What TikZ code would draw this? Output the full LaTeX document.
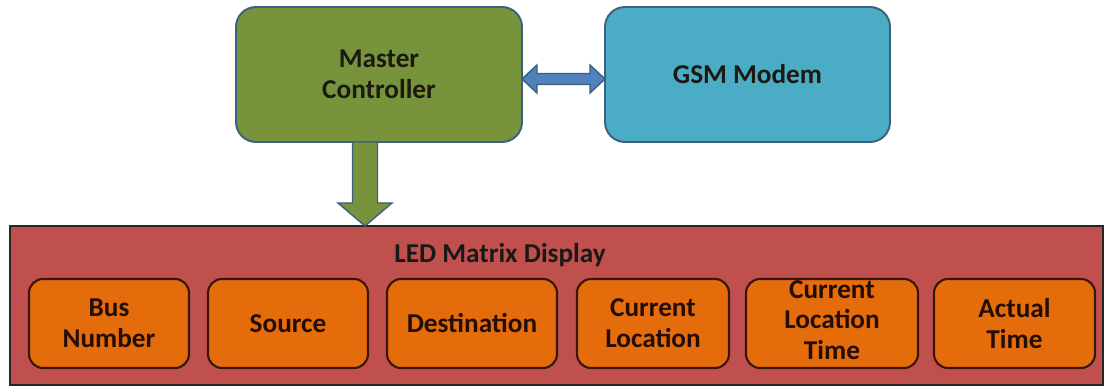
\documentclass[tikz,border=0pt]{standalone}
\usepackage{fontspec}
\setmainfont{Carlito}
\usetikzlibrary{calc}
\definecolor{mcgreen}{HTML}{77933C}
\definecolor{gsmblue}{HTML}{4BACC6}
\definecolor{linkblue}{HTML}{4F81BD}
\definecolor{edgeblue}{HTML}{3F5F7F}
\definecolor{ledred}{HTML}{C0504D}
\definecolor{cellorange}{HTML}{E46C0A}
\definecolor{celledge}{HTML}{3A160A}
\definecolor{inktext}{HTML}{1C1A10}
\newcommand{\labelfont}{\fontsize{15.5}{17.5}\selectfont\bfseries}
\tikzset{
  pxsize/.style 2 args={minimum width={#1*0.02cm}, minimum height={#2*0.02cm}},
  unitbox/.style={draw=edgeblue, line width=1.1pt, rounded corners=0.4cm,
    inner sep=0pt, outer sep=0pt, align=center, text=inktext,
    font=\labelfont},
  ledbox/.style={draw=black!85, fill=ledred, line width=1.4pt,
    inner sep=0pt, outer sep=0pt},
  cellbox/.style={draw=celledge, fill=cellorange, line width=1.2pt,
    rounded corners=0.28cm, inner sep=0pt, outer sep=0pt, align=center,
    text=celledge!60!black, font=\labelfont},
  blockarrow/.style={line width=0.8pt, line join=miter},
}
\begin{document}
\begin{tikzpicture}[x=0.02cm, y=-0.02cm]
  \useasboundingbox[fill=white] (0,0) rectangle (1112,391);

  % top row: controller and modem
  \node[unitbox, fill=mcgreen, pxsize={286}{135}] (mc) at (379,74.5) {Master\\Controller};
  \node[unitbox, fill=gsmblue, pxsize={285}{135}] (gsm) at (747.5,74.5) {GSM Modem};

  % display panel with its fields
  \node[ledbox, pxsize={1093}{159}] (led) at (556.5,305.5) {};
  \node[text=black!90, font=\labelfont] (ledlabel) at (500,255) {LED Matrix Display};
  \node[cellbox, pxsize={160}{89}] (bus)  at (109,323.5)  {Bus\\Number};
  \node[cellbox, pxsize={160}{89}] (src)  at (288,323.5)  {Source};
  \node[cellbox, pxsize={170}{89}] (dst)  at (472,323.5)  {Destination};
  \node[cellbox, pxsize={152}{89}] (cloc) at (653,323.5)  {Current\\Location};
  \node[cellbox, pxsize={172}{89}] (ctim) at (832,323.5)  {};
  \node[text=celledge!60!black, align=center, inner sep=0pt, font=\labelfont] (ctimtext) at (832,320) {Current\\Location\\Time};
  \node[cellbox, pxsize={161}{89}] (act)  at (1014.5,323.5) {Actual\\Time};

  % two-way link between controller and modem
  \coordinate (la) at ($(mc.east)+(0,4.5)$);
  \coordinate (lb) at ($(gsm.west)+(0,4.5)$);
  \filldraw[blockarrow, fill=linkblue, draw=edgeblue]
    (la) -- ($(la)+(15,-14)$) -- ($(la)+(15,-5.5)$) -- ($(lb)+(-15,-5.5)$)
    -- ($(lb)+(-15,-14)$) -- (lb) -- ($(lb)+(-15,14)$) -- ($(lb)+(-15,5.5)$)
    -- ($(la)+(15,5.5)$) -- ($(la)+(15,14)$) -- cycle;

  % downward feed from controller to display
  \coordinate (da) at ($(mc.south)+(-14,0)$);
  \coordinate (db) at (da |- led.north);
  \filldraw[blockarrow, fill=mcgreen, draw=edgeblue]
    ($(da)+(-12.5,0)$) -- ($(db)+(-12.5,-23)$) -- ($(db)+(-27,-23)$) -- (db)
    -- ($(db)+(27,-23)$) -- ($(db)+(12.5,-23)$) -- ($(da)+(12.5,0)$) -- cycle;
\end{tikzpicture}
\end{document}
